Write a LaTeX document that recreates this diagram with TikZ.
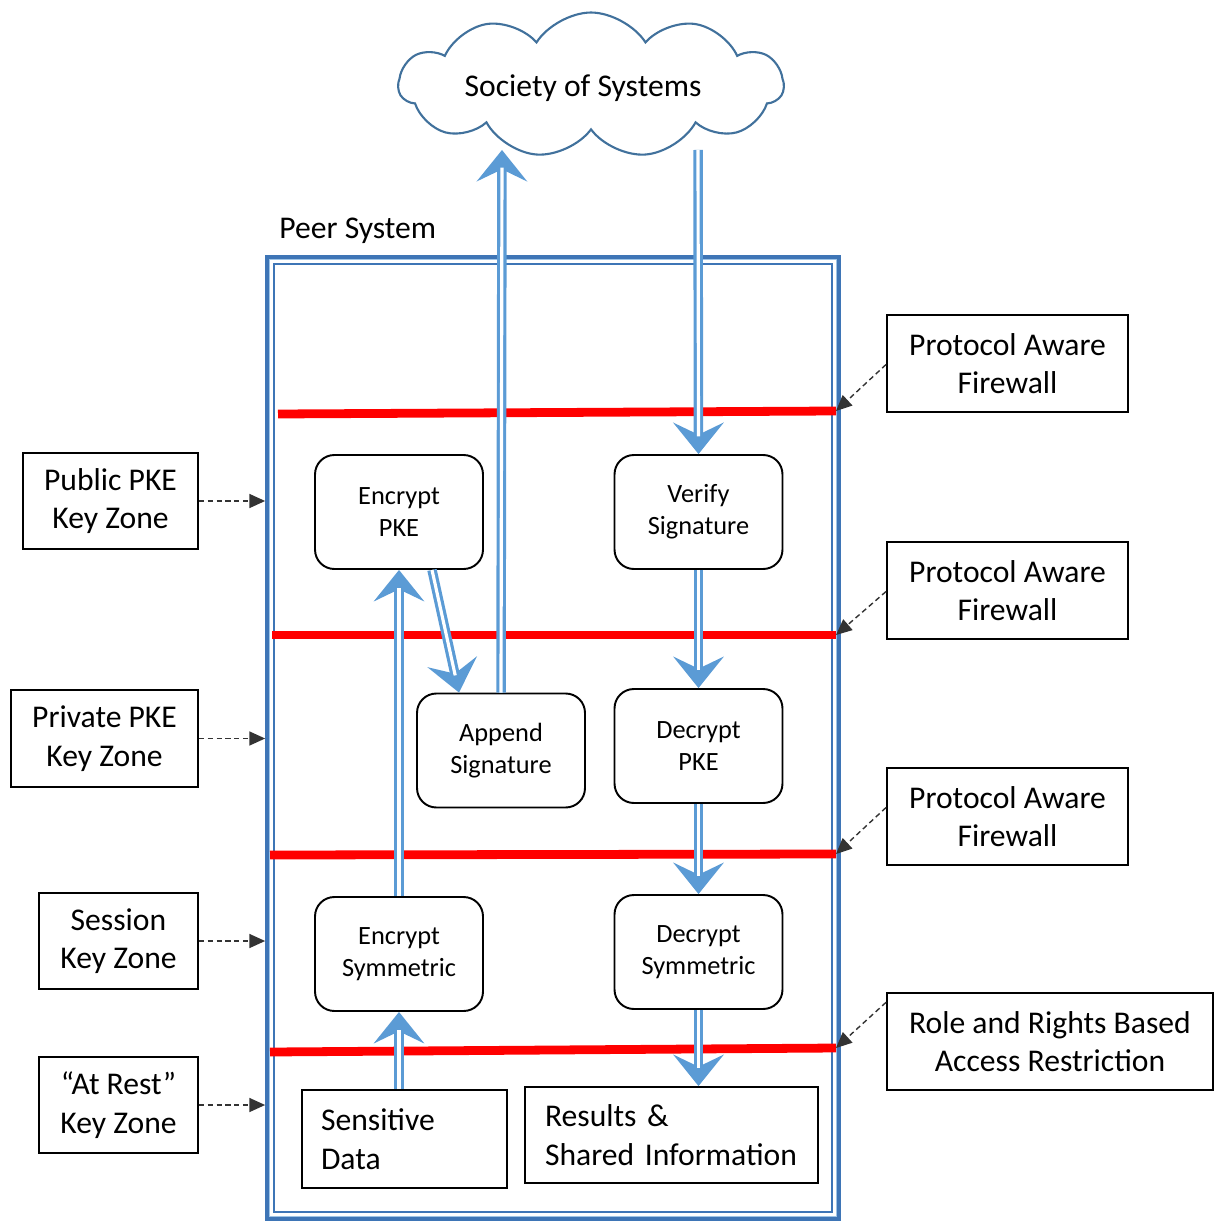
\documentclass[tikz,border=0pt]{standalone}
\usepackage{fontspec}
\setmainfont{Carlito}
\usetikzlibrary{arrows.meta,shapes.symbols,calc}
\definecolor{flowblue}{HTML}{5B9BD5}
\definecolor{frameblue}{HTML}{3E75B6}
\definecolor{framelight}{HTML}{9DC3E6}
\definecolor{cloudblue}{HTML}{41719C}
\begin{document}
\begin{tikzpicture}[x=0.02cm, y=-0.02cm,
  stepbox/.style={draw=black, line width=1.1pt, rounded corners=11pt,
    minimum width=3.36cm, minimum height=2.28cm, align=center,
    font=\fontsize{15}{18}\selectfont},
  zonebox/.style={draw=black, line width=1.1pt, minimum height=1.93cm,
    align=center, inner sep=2pt, font=\fontsize{18}{22}\selectfont},
  databox/.style={draw=black, line width=1.1pt, align=left,
    font=\fontsize{18}{22}\selectfont},
  redbar/.style={draw=red, line width=5pt},
  flow/.style={draw=white, line width=1.8pt, shorten >=10pt,
    preaction={draw=flowblue, line width=5.4pt, shorten >=0pt,
      -{Stealth[length=18pt, width=29pt, inset=7pt, line width=0pt]}}},
  pointer/.style={draw=black!80, line width=0.8pt, dash pattern=on 3pt off 2pt,
    -{Triangle[length=9pt, width=8pt]}}]

\useasboundingbox (0,0) rectangle (1214,1222);

% external network
\node[cloud, draw=cloudblue, line width=1.2pt, cloud puffs=11, cloud puff arc=115,
  aspect=2.7, minimum width=7.7cm, minimum height=2.9cm, inner sep=0pt] (society) at (591,85) {};
\node[font=\fontsize{18}{22}\selectfont] (societylbl) at (583,88) {Society of Systems};
\coordinate (cloudin) at (502,150);
\coordinate (cloudout) at (698,150);

% peer system frame
\node[draw=frameblue, line width=2.2pt, minimum width=11.44cm, minimum height=19.24cm,
  inner sep=0pt] (peer) at (553,738) {};
\draw[framelight, line width=0.8pt] ($(peer.north west)+(4.5,4.5)$) rectangle ($(peer.south east)+(-4.5,-4.5)$);
\draw[frameblue, line width=1.2pt] ($(peer.north west)+(9,9)$) rectangle ($(peer.south east)+(-9,-9)$);
\node[anchor=base west, font=\fontsize{18}{22}\selectfont, inner sep=0pt] (peerlbl) at (279,239) {Peer System};

% firewall layers
\coordinate (f1l) at (278,414); \coordinate (f1r) at (836,411);
\coordinate (f2l) at (272,635); \coordinate (f2r) at (836,635);
\coordinate (f3l) at (270,855); \coordinate (f3r) at (836,854);
\coordinate (f4l) at (270,1052); \coordinate (f4r) at (836,1048);
\draw[redbar] (f1l) -- (f1r);
\draw[redbar] (f2l) -- (f2r);
\draw[redbar] (f3l) -- (f3r);
\draw[redbar] (f4l) -- (f4r);

% processing steps
\node[stepbox] (encpke) at (399,512) {Encrypt\\PKE};
\node[stepbox] (versig) at (698.5,512) {Verify\\Signature};
\node[stepbox] (appsig) at (501,750.5) {Append\\Signature};
\node[stepbox] (decpke) at (698.5,746) {Decrypt\\PKE};
\node[stepbox] (encsym) at (399,954) {Encrypt\\Symmetric};
\node[stepbox] (decsym) at (698.5,952) {Decrypt\\Symmetric};
\node[databox, text width=3.34cm, inner xsep=0.38cm, minimum height=1.96cm] (sens) at (404.5,1139) {Sensitive\\Data};
\node[databox, text width=5.06cm, inner xsep=0.4cm, minimum height=1.92cm] (res) at (671.5,1135) {Results \&\\Shared Information};

% key zones
\node[zonebox, minimum width=3.5cm] (pub) at (110.5,501) {Public PKE\\Key Zone};
\node[zonebox, minimum width=3.74cm] (priv) at (104.5,738.5) {Private PKE\\Key Zone};
\node[zonebox, minimum width=3.18cm] (sess) at (118.5,941) {Session\\Key Zone};
\node[zonebox, minimum width=3.18cm] (rest) at (118.5,1105) {“At Rest”\\Key Zone};

% firewall descriptions
\node[zonebox, minimum width=4.82cm] (fw1) at (1007.5,363.5) {Protocol Aware\\Firewall};
\node[zonebox, minimum width=4.82cm] (fw2) at (1007.5,590.5) {Protocol Aware\\Firewall};
\node[zonebox, minimum width=4.82cm] (fw3) at (1007.5,816.5) {Protocol Aware\\Firewall};
\node[zonebox, minimum width=6.52cm] (role) at (1050,1041.5) {Role and Rights Based\\Access Restriction};

% data flow
\draw[flow] (sens.north -| encsym) -- (encsym.south);
\draw[flow] (encsym.north) -- (encpke.south);
\draw[flow] ($(encpke.south)+(33,0)$) -- ($(appsig.north)+(-42,0)$);
\draw[flow] (appsig.north) -- (cloudin);
\draw[flow] (cloudout) -- (versig.north);
\draw[flow] (versig.south) -- (decpke.north);
\draw[flow] (decpke.south) -- (decsym.north);
\draw[flow] (decsym.south) -- (res.north -| decsym);

% zone pointers
\draw[pointer] (pub.east) -- (pub.east -| peer.west);
\draw[pointer] (priv.east) -- (priv.east -| peer.west);
\draw[pointer] (sess.east) -- (sess.east -| peer.west);
\draw[pointer] (rest.east) -- (rest.east -| peer.west);

% firewall pointers
\draw[pointer] ($(fw1.west)+(0,1)$) -- (f1r);
\draw[pointer] ($(fw2.west)+(0,1)$) -- (f2r);
\draw[pointer] ($(fw3.west)+(0,-9)$) -- (f3r);
\draw[pointer] ($(role.north west)+(0,10)$) -- (f4r);
\end{tikzpicture}
\end{document}
